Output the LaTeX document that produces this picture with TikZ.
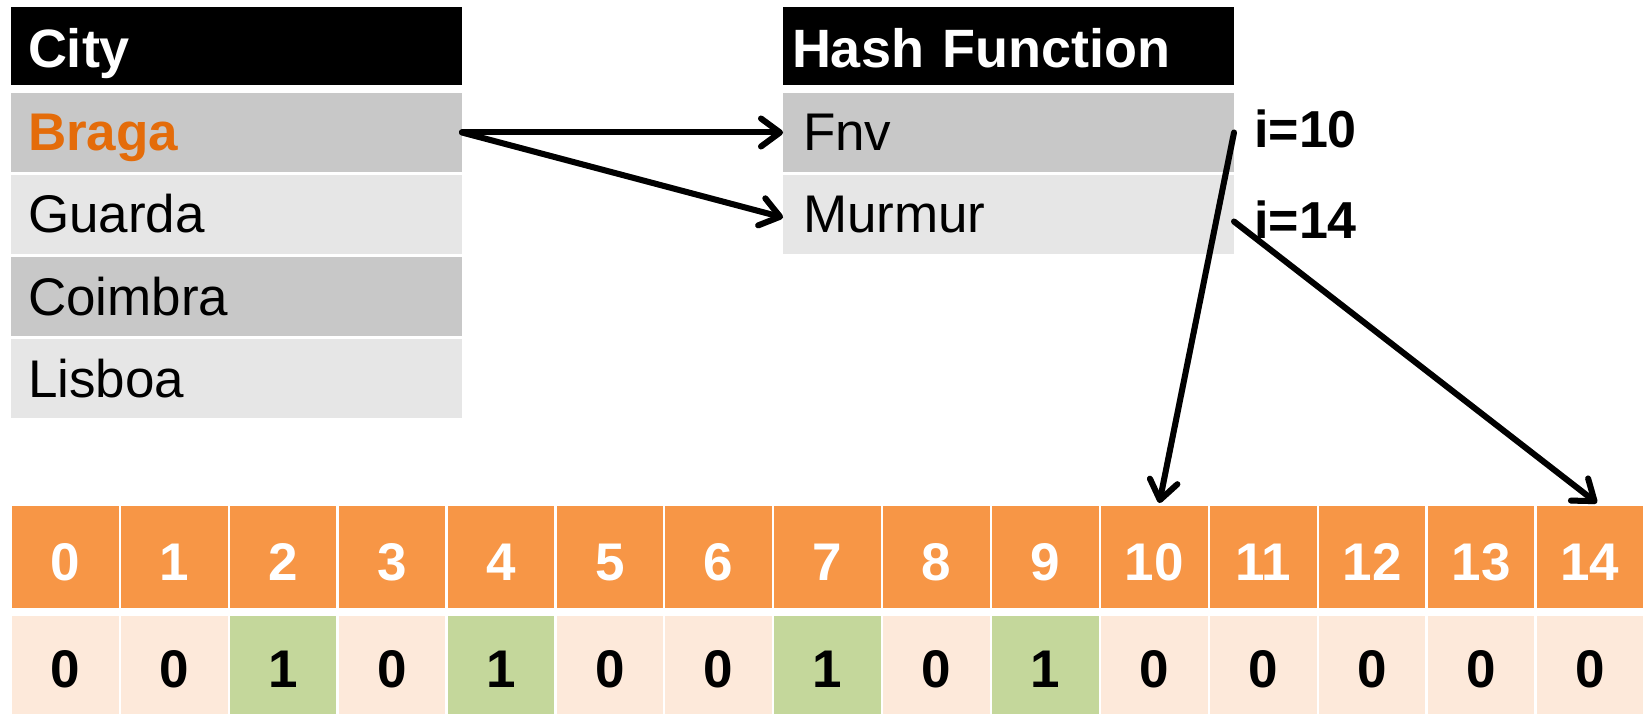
\documentclass[tikz,border=0pt]{standalone}
\usepackage{fontspec}
\setmainfont{Liberation Sans}
\usetikzlibrary{arrows.meta}
\definecolor{rowdark}{RGB}{200,200,200}
\definecolor{rowlight}{RGB}{230,230,230}
\definecolor{bragaorange}{RGB}{228,108,10}
\definecolor{bitorange}{RGB}{247,150,70}
\definecolor{bitlight}{RGB}{253,233,218}
\definecolor{bitgreen}{RGB}{196,215,155}
\begin{document}
\begin{tikzpicture}[x=1pt,y=-1pt,
  cellbase/.style={rectangle, draw=none, outer sep=0pt, inner ysep=0pt, anchor=north west, text depth=0pt},
  hdrbox/.style={cellbase, fill=black, text=white, font=\fontsize{54}{60}\selectfont\bfseries,
    minimum height=78pt, text height=44pt, align=left},
  rowbox/.style={cellbase, font=\fontsize{53}{60}\selectfont, minimum height=79pt,
    text height=37pt, inner xsep=17pt, text width=417pt, align=left},
  idxcell/.style={cellbase, inner xsep=0pt, fill=bitorange, text=white, font=\fontsize{53}{60}\selectfont\bfseries,
    minimum width=106.6pt, minimum height=102pt, text height=46pt},
  bitcell/.style={cellbase, inner xsep=0pt, text=black, font=\fontsize{53}{60}\selectfont\bfseries,
    minimum width=106.6pt, minimum height=102pt, text height=40pt},
  lbl/.style={anchor=base west, inner sep=0pt, font=\fontsize{52}{60}\selectfont\bfseries},
  arr/.style={line width=6pt, line cap=round, line join=round, -{Straight Barb[length=19pt,width=28pt,round]}},
  arrshadow/.style={arr, draw=black, opacity=0.18, shift={(2pt,-2.5pt)}}
]
\useasboundingbox (0,0) rectangle (1643,714);
% City table
\node[hdrbox, inner xsep=17pt, text width=417pt] (cityh) at (11,7) {City};
\node[rowbox, fill=rowdark, text=bragaorange, font=\fontsize{53}{60}\selectfont\bfseries] (braga) at (11,93) {Braga};
\node[rowbox, fill=rowlight] (guarda) at (11,175) {Guarda};
\node[rowbox, fill=rowdark] (coimbra) at (11,257) {Coimbra};
\node[rowbox, fill=rowlight] (lisboa) at (11,339) {Lisboa};
% Hash table
\node[hdrbox, inner xsep=9pt, text width=433pt] (hashh) at (783,7) {Hash Function};
\node[rowbox, fill=rowdark, inner xsep=20pt, text width=411pt] (fnv) at (783,93) {Fnv};
\node[rowbox, fill=rowlight, inner xsep=20pt, text width=411pt] (murmur) at (783,175) {Murmur};
% labels
\node[lbl] (i10) at (1254,148) {i=10};
\node[lbl] (i14) at (1254,238) {i=14};
% bit array
\foreach \i/\v/\c in {0/0/bitlight,1/0/bitlight,2/1/bitgreen,3/0/bitlight,4/1/bitgreen,5/0/bitlight,6/0/bitlight,7/1/bitgreen,8/0/bitlight,9/1/bitgreen,10/0/bitlight,11/0/bitlight,12/0/bitlight,13/0/bitlight,14/0/bitlight}{
  \pgfmathsetmacro{\xx}{12+108.9*\i}
  \node[idxcell] (h\i) at (\xx,506) {\i};
  \node[bitcell, fill=\c] (b\i) at (\xx,616) {\v};
}
% arrow shadows
\draw[arrshadow] (braga.east) -- (fnv.west);
\draw[arrshadow] (braga.east) -- ([yshift=-3pt]murmur.west);
\draw[arrshadow] (fnv.east) -- ([xshift=5pt,yshift=3pt]h10.north);
\draw[arrshadow] ([yshift=-7pt]murmur.east) -- ([xshift=7pt,yshift=3pt]h14.north);
% arrows
\draw[arr] (braga.east) -- (fnv.west);
\draw[arr] (braga.east) -- ([yshift=-3pt]murmur.west);
\draw[arr] (fnv.east) -- ([xshift=5pt,yshift=3pt]h10.north);
\draw[arr] ([yshift=-7pt]murmur.east) -- ([xshift=7pt,yshift=3pt]h14.north);
\end{tikzpicture}
\end{document}
